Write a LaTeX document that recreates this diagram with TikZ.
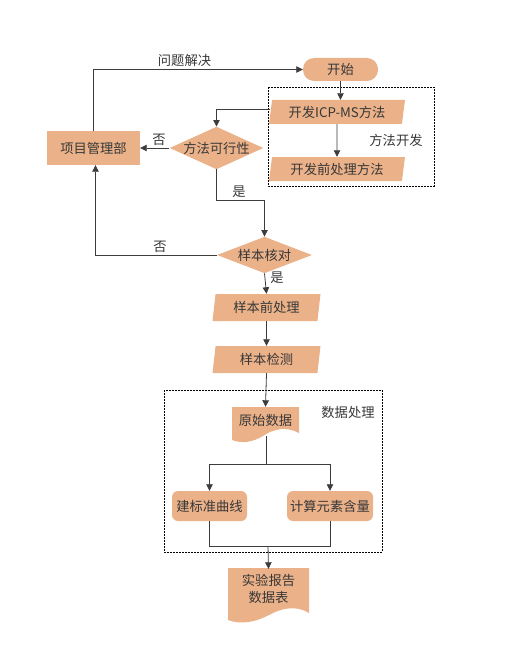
\documentclass[tikz,border=0pt]{standalone}
\usepackage{fontspec}
\setmainfont{Noto Sans CJK SC}
\usetikzlibrary{shapes.geometric,arrows.meta,calc}
\definecolor{boxfill}{RGB}{235,178,138}
\definecolor{ink}{RGB}{55,55,55}
\definecolor{wire}{RGB}{60,60,60}
\begin{document}
\begin{tikzpicture}[x=1pt,y=-1pt,
  txt/.style={text=ink,font=\fontsize{13.3}{15.5}\selectfont},
  box/.style={txt,fill=boxfill,draw=none,inner sep=0pt},
  para/.style={box,trapezium,trapezium left angle=76,trapezium right angle=104,trapezium stretches body=true},
  dia/.style={box,diamond,aspect=2.2},
  ghost/.style={txt,draw=none,fill=none,inner sep=0pt},
  wirestyle/.style={draw=wire,line width=0.8pt},
  arr/.style={wirestyle,-{Triangle[length=6.5pt,width=6.5pt]}},
  frame/.style={draw=black,line width=0.7pt,dash pattern=on 1.6pt off 1.4pt},
  lbl/.style={txt,inner sep=1pt}
]
\useasboundingbox (0,0) rectangle (517,650);

% dashed frames
\draw[frame] (268,87) rectangle (434,186);
\draw[frame] (164,390) rectangle (382,552);

% document shapes (drawn directly)
\fill[boxfill] (232,407) -- (299,407) -- (299,433)
  .. controls (286,426) and (273,429) .. (263,436)
  .. controls (253,442) and (242,444) .. (232,440) -- cycle;
\fill[boxfill] (228,568) -- (309,568) -- (309,613)
  .. controls (296,605) and (282,608) .. (269,615)
  .. controls (256,622) and (241,625) .. (228,620) -- cycle;

% nodes
\node[box,rounded corners=11pt,minimum width=75pt,minimum height=23pt] (start) at (340.5,69.5) {开始};
\node[para,minimum width=136pt,minimum height=24pt] (icp) at (337,112) {开发ICP-MS方法};
\node[para,minimum width=136pt,minimum height=24pt] (prep) at (337,169) {开发前处理方法};
\node[box,minimum width=93pt,minimum height=34pt] (pm) at (93.5,148) {项目管理部};
\node[dia,minimum width=89pt,minimum height=40pt] (d1) at (216.5,148) {方法可行性};
\node[dia,minimum width=95pt,minimum height=32pt] (d2) at (264.5,255) {样本核对};
\node[para,minimum width=108pt,minimum height=27pt] (spre) at (266.5,307.5) {样本前处理};
\node[para,minimum width=108pt,minimum height=27pt] (sdet) at (266.5,359.5) {样本检测};
\node[ghost,minimum width=67pt,minimum height=26pt] (raw) at (265.5,420) {原始数据};
\node[box,rounded corners=6pt,minimum width=75pt,minimum height=30pt] (curve) at (209.5,506) {建标准曲线};
\node[box,rounded corners=6pt,minimum width=86pt,minimum height=30pt] (calc) at (330,506) {计算元素含量};
\node[ghost,minimum width=81pt,minimum height=40pt,align=center] (report) at (268.5,589) {实验报告\\[1pt]数据表};

% labels
\node[lbl] (l1) at (184.5,60) {问题解决};
\node[lbl] (l2) at (396,140) {方法开发};
\node[lbl] (l3) at (159,140) {否};
\node[lbl] (l4) at (239,192) {是};
\node[lbl] (l5) at (160,247) {否};
\node[lbl] (l6) at (277,278) {是};
\node[lbl] (l7) at (348,412) {数据处理};

% connectors
\coordinate (c1) at (216.5,200);
\coordinate (c2) at (95.5,255);
\coordinate (split) at (266,464);
\coordinate (join) at (268,546);
\coordinate (rawbot) at (266,436);

\draw[arr] (pm.north) |- (start.west);
\draw[arr] (start.south) -- (icp.north -| start.south);
\draw[arr] ($(icp.west)+(0,-3)$) -| (d1.north);
\draw[arr] (icp.south) -- (prep.north);
\draw[arr] (d1.west) -- (pm.east);
\draw[arr] (d1.south) -- (c1) -| (d2.north);
\draw[arr] (d2.west) -- (c2) -- (c2 |- pm.south);
\draw[arr] (d2.south) -- (spre.north);
\draw[arr] (spre.south) -- (sdet.north);
\draw[arr] (sdet.south) -- (raw.north);
\draw[wirestyle] (rawbot) -- (split);
\draw[arr] (split) -| (curve.north);
\draw[arr] (split) -| (calc.north);
\draw[wirestyle] (curve.south) |- (join);
\draw[wirestyle] (calc.south) |- (join);
\draw[arr] (join) -- (report.north);
\end{tikzpicture}
\end{document}
